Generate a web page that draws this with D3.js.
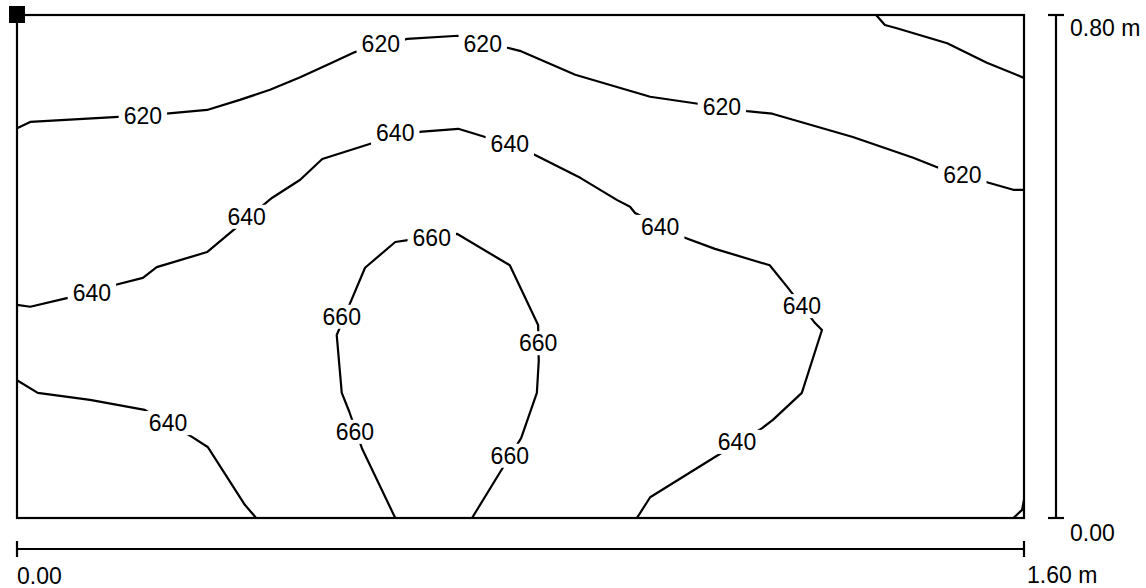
<!DOCTYPE html>
<html>
<head>
<meta charset="utf-8">
<script src="https://cdn.jsdelivr.net/npm/d3@7"></script>
<style>
  html, body { margin: 0; padding: 0; background: #fff; }
  svg text { font-family: "Liberation Sans", Arial, sans-serif; fill: #000; }
</style>
</head>
<body>
<svg id="chart" width="1146" height="588"></svg>
<script>
// Extent of the surveyed area (metres)
const extentX = [0, 1.6];
const extentY = [0, 0.8];

// Scale-bar labels
const xScaleLabels = ["0.00", "1.60 m"];
const yScaleLabels = ["0.00", "0.80 m"];

// Contour lines: [x (m), y (m)] points
const contour620 = [[0,0.620],[0.021,0.630],[0.161,0.638],[0.237,0.643],[0.302,0.649],[0.354,0.665],[0.402,0.681],[0.450,0.701],[0.502,0.725],[0.537,0.741],[0.620,0.762],[0.701,0.767],[0.779,0.748],[0.799,0.743],[0.887,0.705],[1.006,0.670],[1.074,0.660],[1.160,0.647],[1.200,0.643],[1.328,0.606],[1.424,0.573],[1.462,0.558],[1.541,0.534],[1.583,0.522],[1.600,0.522]];
const contourTopRight = [[1.365,0.800],[1.379,0.784],[1.398,0.779],[1.478,0.755],[1.541,0.724],[1.600,0.700]];
const contour640Upper = [[0,0.339],[0.021,0.336],[0.081,0.350],[0.157,0.371],[0.200,0.382],[0.222,0.399],[0.302,0.423],[0.338,0.453],[0.405,0.509],[0.450,0.538],[0.485,0.571],[0.564,0.596],[0.639,0.614],[0.701,0.619],[0.744,0.606],[0.820,0.579],[0.895,0.541],[0.953,0.506],[0.974,0.495],[0.982,0.485],[1.058,0.447],[1.109,0.428],[1.196,0.402],[1.225,0.366],[1.268,0.310],[1.279,0.299],[1.247,0.199],[1.201,0.156],[1.184,0.143],[1.109,0.097],[1.006,0.033],[0.985,0]];
const contour640Lower = [[0,0.219],[0.033,0.199],[0.116,0.188],[0.203,0.172],[0.278,0.129],[0.303,0.113],[0.362,0.021],[0.380,0]];
const contour660 = [[0.601,0],[0.548,0.111],[0.528,0.169],[0.516,0.199],[0.508,0.291],[0.532,0.348],[0.553,0.398],[0.601,0.439],[0.621,0.442],[0.699,0.452],[0.783,0.402],[0.828,0.307],[0.829,0.250],[0.826,0.199],[0.801,0.127],[0.767,0.072],[0.723,0]];
const contourCorner = [[1.583,0],[1.597,0.013],[1.600,0.029]];
const contours = [contour620, contourTopRight, contour640Upper, contour640Lower, contour660, contourCorner];

// Contour labels: [value, x (m), y (m)]
const contourLabels = [
  [620,0.200,0.640],[620,0.578,0.754],[620,0.740,0.755],[620,1.120,0.654],[620,1.502,0.546],
  [640,0.119,0.359],[640,0.365,0.479],[640,0.601,0.612],[640,0.783,0.595],[640,1.022,0.463],[640,1.247,0.337],[640,1.144,0.121],[640,0.240,0.151],
  [660,0.537,0.137],[660,0.516,0.320],[660,0.659,0.445],[660,0.828,0.278],[660,0.783,0.099]
];

const svg = d3.select("#chart");
const pLeft = 17, pTop = 15, pRight = 1024, pBottom = 518;
const x = d3.scaleLinear().domain(extentX).range([pLeft, pRight]);
const y = d3.scaleLinear().domain(extentY).range([pBottom, pTop]);

const line = d3.line().x(d => x(d[0])).y(d => y(d[1]));

// contour lines
svg.append("g").selectAll("path").data(contours).join("path")
  .attr("d", line)
  .attr("fill", "none").attr("stroke", "#000").attr("stroke-width", 2.2)
  .attr("stroke-linejoin", "round");

// labels with white knock-out
const lg = svg.append("g");
const fs = 23;
contourLabels.forEach(([v, lx, ly]) => {
  const g = lg.append("g").attr("transform", `translate(${x(lx)},${y(ly)})`);
  const t = g.append("text").attr("text-anchor", "middle").attr("dy", "0.36em")
    .attr("font-size", fs).text(v);
  const w = t.node().getComputedTextLength();
  g.insert("rect", "text").attr("x", -w/2 - 5).attr("y", -12).attr("width", w + 10).attr("height", 24).attr("fill", "#fff");
});

// frame
svg.append("rect").attr("x", x(0)).attr("y", y(0.8)).attr("width", x(1.6) - x(0)).attr("height", y(0) - y(0.8))
  .attr("fill", "none").attr("stroke", "#000").attr("stroke-width", 2.2);

// corner marker
svg.append("rect").attr("x", x(0) - 8).attr("y", y(0.8) - 9).attr("width", 16).attr("height", 17).attr("fill", "#000");

// horizontal scale bar
const hb = y(0) + 31;
svg.append("line").attr("x1", x(0)).attr("x2", x(1.6)).attr("y1", hb).attr("y2", hb).attr("stroke", "#000").attr("stroke-width", 2.2);
[0, 1.6].forEach(v => svg.append("line").attr("x1", x(v)).attr("x2", x(v)).attr("y1", hb - 8).attr("y2", hb + 8).attr("stroke", "#000").attr("stroke-width", 2.2));
svg.append("text").attr("x", x(0)).attr("y", 584).attr("font-size", fs).text(xScaleLabels[0]);
svg.append("text").attr("x", x(1.6) + 3).attr("y", 583).attr("font-size", fs).text(xScaleLabels[1]);

// vertical scale bar
const vb = x(1.6) + 32;
svg.append("line").attr("x1", vb).attr("x2", vb).attr("y1", y(0)).attr("y2", y(0.8)).attr("stroke", "#000").attr("stroke-width", 2.2);
[0, 0.8].forEach(v => svg.append("line").attr("x1", vb - 8).attr("x2", vb + 8).attr("y1", y(v)).attr("y2", y(v)).attr("stroke", "#000").attr("stroke-width", 2.2));
svg.append("text").attr("x", vb + 14).attr("y", 541).attr("font-size", fs).text(yScaleLabels[0]);
svg.append("text").attr("x", vb + 14).attr("y", 36).attr("font-size", fs).text(yScaleLabels[1]);
</script>
</body>
</html>
